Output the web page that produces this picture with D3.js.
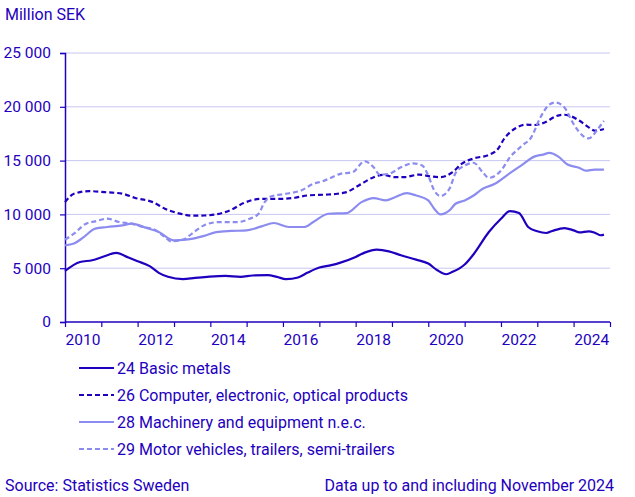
<!DOCTYPE html>
<html><head><meta charset="utf-8">
<script src="https://cdn.jsdelivr.net/npm/d3@7"></script>
<style>
html,body{margin:0;padding:0;background:#fff;}
svg text{font-family:Roboto, "Noto Sans", sans-serif;fill:#1E00BE;}
</style></head>
<body>
<svg id="chart" width="635" height="497"></svg>
<script>
// ---- data (monthly trend) ----
const basicMetals = [
 ["2010-01",4750],["2010-06",5580],["2010-10",5740],["2011-02",6110],["2011-06",6420],["2011-10",5990],
 ["2012-01",5650],["2012-05",5190],["2012-08",4570],["2012-11",4200],["2013-04",3980],["2013-08",4100],
 ["2013-12",4200],["2014-06",4290],["2014-11",4200],["2015-03",4320],["2015-08",4350],["2015-11",4200],
 ["2016-02",3980],["2016-06",4140],["2016-09",4570],["2017-01",5060],["2017-05",5280],["2017-08",5520],
 ["2018-01",6050],["2018-04",6450],["2018-08",6730],["2018-12",6570],["2019-04",6200],["2019-09",5800],
 ["2020-01",5430],["2020-04",4810],["2020-07",4440],["2020-09",4660],["2021-01",5340],["2021-04",6300],
 ["2021-09",8360],["2022-01",9600],["2022-04",10310],["2022-07",10120],["2022-10",8830],["2023-01",8430],
 ["2023-04",8270],["2023-06",8460],["2023-10",8730],["2024-01",8520],["2024-03",8330],["2024-06",8430],
 ["2024-08",8300],["2024-10",8060],["2024-11",8120]
];
const computerElectronic = [
 ["2010-01",11140],["2010-04",11920],["2010-09",12160],["2011-02",12070],["2011-08",11920],["2011-12",11550],
 ["2012-06",11140],["2012-10",10530],["2013-03",10070],["2013-07",9880],["2013-11",9900],["2014-03",10000],
 ["2014-08",10440],["2014-12",11050],["2015-06",11450],["2016-01",11450],["2016-05",11550],["2016-09",11760],
 ["2017-04",11850],["2017-07",11920],["2017-10",12070],["2018-02",12690],["2018-07",13460],["2018-10",13680],
 ["2019-02",13460],["2019-05",13460],["2019-10",13700],["2020-02",13520],["2020-05",13460],["2020-09",13920],
 ["2020-12",14700],["2021-04",15200],["2021-09",15530],["2021-12",16080],["2022-02",17010],["2022-06",18030],
 ["2022-09",18340],["2022-12",18310],["2023-04",18610],["2023-07",19100],["2023-10",19260],["2023-12",19140],
 ["2024-03",18700],["2024-06",18090],["2024-08",17780],["2024-11",17940]
];
const machinery = [
 ["2010-01",7130],["2010-04",7290],["2010-07",7840],["2010-11",8680],["2011-03",8830],["2011-08",8980],
 ["2011-11",9140],["2012-04",8730],["2012-08",8360],["2013-01",7590],["2013-05",7650],["2013-11",8000],
 ["2014-03",8360],["2014-08",8460],["2015-01",8520],["2015-06",8890],["2015-10",9200],["2016-03",8830],
 ["2016-08",8830],["2016-11",9290],["2017-04",10060],["2017-10",10120],["2018-03",11140],["2018-07",11510],
 ["2018-11",11300],["2019-02",11600],["2019-06",11970],["2019-09",11760],["2020-01",11300],["2020-03",10530],
 ["2020-05",10000],["2020-08",10370],["2020-10",10990],["2021-01",11300],["2021-04",11760],["2021-07",12380],
 ["2021-11",12840],["2022-04",13830],["2022-08",14600],["2022-12",15370],["2023-03",15560],["2023-05",15710],
 ["2023-08",15370],["2023-11",14630],["2024-03",14320],["2024-05",14070],["2024-08",14170],["2024-11",14170]
];
const motorVehicles = [
 ["2010-01",7650],["2010-04",8210],["2010-08",9140],["2010-11",9350],["2011-03",9600],["2011-07",9290],
 ["2011-11",9140],["2012-02",8890],["2012-07",8520],["2012-10",7900],["2012-12",7500],["2013-04",7650],
 ["2013-07",8210],["2013-11",9000],["2014-04",9290],["2014-10",9290],["2015-02",9600],["2015-05",10060],
 ["2015-07",11140],["2015-09",11670],["2016-02",11920],["2016-07",12220],["2016-11",12840],["2017-02",13080],
 ["2017-04",13300],["2017-08",13770],["2017-12",13920],["2018-04",14940],["2018-07",14380],["2018-09",13700],
 ["2018-12",13770],["2019-04",14380],["2019-08",14750],["2019-11",14540],["2020-01",13610],["2020-03",12220],
 ["2020-05",11700],["2020-08",12380],["2020-10",13830],["2021-01",14540],["2021-04",14800],["2021-07",13920],
 ["2021-09",13400],["2022-01",14070],["2022-04",15310],["2022-08",16390],["2022-11",17160],["2023-02",19010],
 ["2023-05",20190],["2023-07",20400],["2023-10",19940],["2024-01",18400],["2024-04",17320],["2024-06",17070],
 ["2024-09",17940],["2024-11",18700]
];
const seriesNames = ["24 Basic metals","26 Computer, electronic, optical products","28 Machinery and equipment n.e.c.","29 Motor vehicles, trailers, semi-trailers"];
const yTicks = [0,5000,10000,15000,20000,25000];
const xLabelYears = [2010,2012,2014,2016,2018,2020,2022,2024];
const unitLabel = "Million SEK";
const sourceText = "Source: Statistics Sweden";
const noteText = "Data up to and including November 2024";

// ---- styles ----
const dark = "#1E00BE", light = "#8C8CF0", grid = "#C8C8F0";
const seriesStyle = [
  {data: basicMetals, color: dark, dash: null},
  {data: computerElectronic, color: dark, dash: "5,3"},
  {data: machinery, color: light, dash: null},
  {data: motorVehicles, color: light, dash: "5,3"}
];

const svg = d3.select("#chart");
const parse = d3.timeParse("%Y-%m");
const m = {left:65, right:610, top:53, bottom:322};
const x = d3.scaleTime().domain([new Date(2010,0,1), new Date(2025,0,1)]).range([m.left, m.right]);
const y = d3.scaleLinear().domain([0,25000]).range([m.bottom, m.top]);
const fmt = v => d3.format(",")(v).replace(/,/g, " ");

// gridlines
svg.append("g").selectAll("line").data(yTicks.filter(d => d>0)).join("line")
  .attr("x1", m.left).attr("x2", m.right).attr("y1", d => y(d)).attr("y2", d => y(d))
  .attr("stroke", grid).attr("stroke-width", 1);

// y axis
const yAxis = svg.append("g").attr("transform", `translate(${m.left},0)`)
  .call(d3.axisLeft(y).tickValues(yTicks).tickSize(5).tickPadding(9).tickFormat(fmt));
yAxis.select(".domain").attr("stroke", dark).attr("stroke-width", 1.5);
yAxis.selectAll(".tick line").attr("stroke", dark).attr("stroke-width", 1.2);
yAxis.selectAll(".tick text").attr("font-size", 15.5).attr("fill", dark).style("font-family","Roboto");

// x axis
const xAxis = svg.append("g").attr("transform", `translate(0,${m.bottom})`)
  .call(d3.axisBottom(x).ticks(d3.timeYear.every(1)).tickSize(5).tickFormat(""));
xAxis.select(".domain").attr("stroke", dark).attr("stroke-width", 1.5).attr("d", `M${m.left},0H${m.right}`);
xAxis.selectAll(".tick line").attr("stroke", dark).attr("stroke-width", 1.2);
svg.append("g").selectAll("text").data(xLabelYears).join("text")
  .attr("x", d => x(new Date(d,6,1))).attr("y", m.bottom + 23)
  .attr("text-anchor","middle").attr("font-size", 15.5).text(d => d);

// lines
const line = d3.line().x(d => x(parse(d[0]))).y(d => y(d[1])).curve(d3.curveMonotoneX);
svg.append("g").selectAll("path").data(seriesStyle).join("path")
  .attr("d", s => line(s.data)).attr("fill","none")
  .attr("stroke", s => s.color).attr("stroke-width", 2.2)
  .attr("stroke-dasharray", s => s.dash).attr("stroke-linejoin","round");

// title
svg.append("text").attr("x", 5).attr("y", 20).attr("font-size", 16).text(unitLabel);

// legend
const lg = svg.append("g").selectAll("g").data(seriesStyle).join("g")
  .attr("transform", (d,i) => `translate(79,${368 + i*27})`);
lg.append("line").attr("x1",0).attr("x2",35).attr("y1",0).attr("y2",0)
  .attr("stroke", d => d.color).attr("stroke-width", 2.2).attr("stroke-dasharray", d => d.dash);
lg.append("text").attr("x", 38).attr("y", 5.5).attr("font-size", 16).text((d,i) => seriesNames[i]);

// footer
svg.append("text").attr("x", 5).attr("y", 491).attr("font-size", 16).text(sourceText);
svg.append("text").attr("x", 614).attr("y", 491).attr("font-size", 16).attr("text-anchor","end").text(noteText);
</script>
</body></html>
